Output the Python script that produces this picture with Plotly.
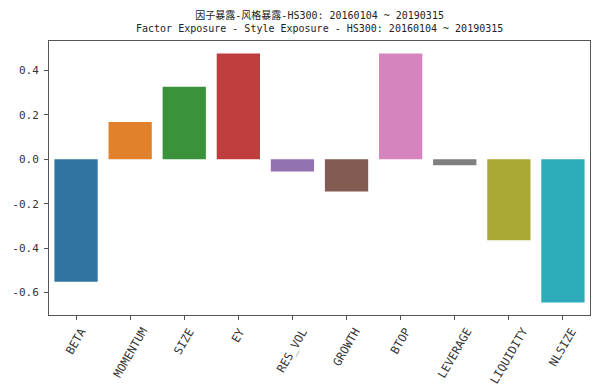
import plotly.graph_objects as go

factors = ["BETA", "MOMENTUM", "SIZE", "EY", "RES_VOL", "GROWTH", "BTOP", "LEVERAGE", "LIQUIDITY", "NLSIZE"]
exposure = [-0.551, 0.168, 0.327, 0.477, -0.055, -0.145, 0.477, -0.027, -0.364, -0.645]
colors = ["#3274a1", "#e1812c", "#3a923a", "#c03d3e", "#9372b2",
          "#845b53", "#d684bd", "#7f7f7f", "#a9aa35", "#2eabb8"]
y_ticks = [0.4, 0.2, 0.0, -0.2, -0.4, -0.6]
title_cn = "因子暴露-风格暴露-HS300: 20160104 ~ 20190315"
title_en = "Factor Exposure - Style Exposure - HS300: 20160104 ~ 20190315"

FONT = "DejaVu Sans Mono, Noto Sans CJK SC, monospace"

lo = min(min(exposure), 0)
hi = max(max(exposure), 0)
pad = (hi - lo) * 0.05
yrange = [lo - pad, hi + pad]

fig = go.Figure()
fig.add_trace(go.Bar(
    x=list(range(len(factors))), y=exposure,
    marker=dict(color=colors, line=dict(width=0)),
    width=0.8,
))

for i, name in enumerate(factors):
    fig.add_annotation(
        x=i, y=0, xref="x", yref="paper", text=name, showarrow=False,
        textangle=-60, xanchor="center", yanchor="top", yshift=-8,
        font=dict(family=FONT, size=11.5, color="#333"),
    )

fig.add_annotation(
    x=0.5, y=1, xref="paper", yref="paper", text=title_cn + "<br>" + title_en,
    showarrow=False, xanchor="center", yanchor="bottom", yshift=5,
    font=dict(family=FONT, size=10, color="#222"),
)

fig.update_layout(
    width=600, height=387,
    margin=dict(l=49, r=10, t=41, b=72),
    paper_bgcolor="white", plot_bgcolor="white",
    showlegend=False, bargap=0.2,
    xaxis=dict(
        range=[-0.5, len(factors) - 0.5],
        tickmode="array", tickvals=list(range(len(factors))), ticktext=[""] * len(factors),
        ticks="outside", ticklen=4, tickcolor="#555", tickwidth=1,
        showgrid=False, zeroline=False,
        showline=True, linecolor="#555", linewidth=1, mirror=True,
    ),
    yaxis=dict(
        range=yrange,
        tickmode="array", tickvals=y_ticks, ticktext=["%.1f" % v for v in y_ticks],
        ticks="outside", ticklen=4, tickcolor="#555", tickwidth=1,
        ticklabelstandoff=3,
        tickfont=dict(family=FONT, size=11, color="#333"),
        showgrid=False, zeroline=False,
        showline=True, linecolor="#555", linewidth=1, mirror=True,
    ),
)

fig.write_html("out.html")
